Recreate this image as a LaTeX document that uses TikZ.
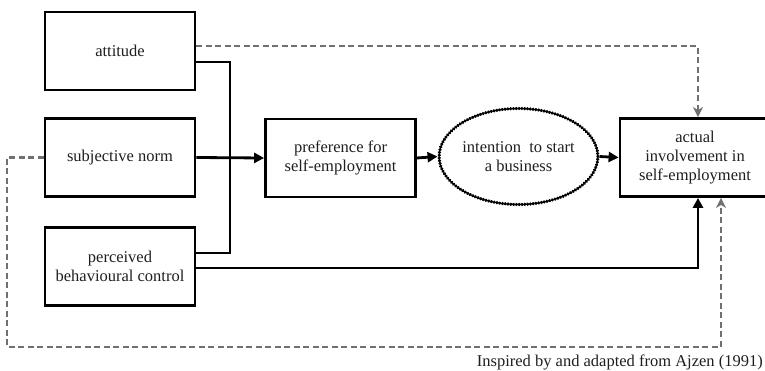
\documentclass[tikz,border=0pt]{standalone}
\usepackage{fontspec}
\setmainfont{Liberation Serif}
\usetikzlibrary{arrows.meta,shapes.geometric}
\definecolor{txt}{HTML}{1E1E1E}
\definecolor{fb}{HTML}{707070}
\begin{document}
\begin{tikzpicture}[x=1pt,y=-1pt,
  font=\fontsize{16.5}{19}\selectfont,
  every node/.style={text=txt, align=center, inner sep=0pt},
  factor/.style={draw=black, line width=2.8pt, minimum width=150pt, minimum height=78pt},
  goal/.style={draw=black, line width=3.2pt, ellipse, line cap=round,
    dash pattern=on 0.4pt off 2.4pt, minimum width=150pt, minimum height=96pt},
  conn/.style={draw=black, line width=2.8pt, line join=miter},
  arr/.style={conn, -{Triangle[length=10pt,width=10pt]}},
  fbline/.style={draw=fb, line width=2.2pt, dash pattern=on 6pt off 3.5pt},
  fbarr/.style={fbline, -{Stealth[length=10pt,width=10pt,inset=3pt]}}
]
\useasboundingbox (0,0) rectangle (765,371);
\clip (0,0) rectangle (765,371);

% predictors
\node[factor] (att) at (120,51) {attitude};
\node[factor] (sub) at (120,157.5) {subjective norm};
\node[factor] (pbc) at (120,266.5) {perceived\\behavioural control};

% mediators and outcome
\node[factor] (pref) at (340.5,158) {preference for\\self-employment};
\node[goal] (int) at (518.5,156.5) {intention\ \ to start\\a business};
\node[factor] (act) at (695,157.5) {actual\\involvement in\\self-employment};

% bus and routing points
\coordinate (bus) at (230,157.5);
\coordinate (fbL) at (7,347);
\coordinate (fbR) at (721,347);

% solid paths
\draw[conn] ([yshift=-11pt]att.east) -| (bus) |- ([yshift=13.5pt]pbc.east);
\draw[arr] (sub.east) -- (pref.west);
\draw[arr] (pref.east) -- (int.west);
\draw[arr] (int.east) -- (act.west);
\draw[arr] ([yshift=-1.5pt]pbc.east) -| ([xshift=3pt]act.south);

% dashed feedback paths
\draw[fbarr] ([yshift=5pt]att.east) -| ([xshift=3pt]act.north);
\draw[fbarr] (sub.west) -| (fbL) -- (fbR) -- (fbR |- act.south);

% source note
\node[anchor=east] (src) at (763,362) {Inspired by and adapted from Ajzen (1991)};
\end{tikzpicture}
\end{document}
